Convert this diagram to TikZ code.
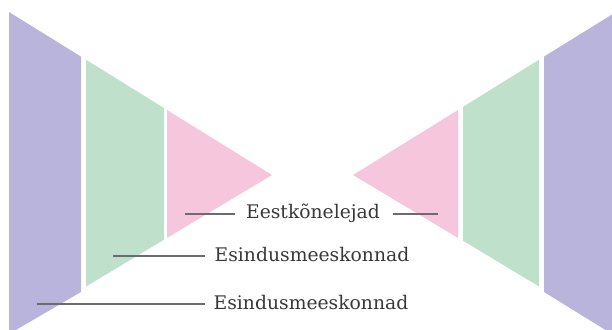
\documentclass[tikz,border=0pt]{standalone}
\usepackage{fontspec}
\setmainfont{DejaVu Serif}
\definecolor{lilac}{HTML}{B8B4DC}
\definecolor{mint}{HTML}{BFE1CC}
\definecolor{rose}{HTML}{F6C6DC}
\definecolor{leader}{HTML}{6E6A6E}
\tikzset{
  lbl/.style={inner sep=0pt, font=\fontsize{16}{19}\selectfont, text=black!78},
  ldr/.style={draw=leader, line width=1.1pt}
}
\begin{document}
\begin{tikzpicture}[x=0.03cm,y=-0.03cm]
\useasboundingbox (0,0) rectangle (612,329);
% left funnel
\fill[lilac] (9,12) -- (81,56.6) -- (81,292) -- (9,334) -- cycle;
\fill[mint] (86,59.7) -- (86,286.5) -- (164,239.7) -- (164,108) -- cycle;
\fill[rose] (167,110) -- (272,175) -- (167,237.9) -- cycle;
% right funnel
\fill[rose] (353,175) -- (458,110) -- (458,237.9) -- cycle;
\fill[mint] (463,106.9) -- (539,59.7) -- (539,286.5) -- (463,240.7) -- cycle;
\fill[lilac] (544,56.6) -- (612,14.5) -- (612,334) -- (544,292) -- cycle;
% labels
\node[lbl] (spk) at (313,213) {Eestk\~onelejad};
\node[lbl] (team) at (312,255) {Esindusmeeskonnad};
\node[lbl] (team2) at (311,303) {Esindusmeeskonnad};
\coordinate (spkL) at (185,214);
\coordinate (spkR) at (438,214);
\coordinate (teamL) at (113,256);
\coordinate (team2L) at (37,304);
\draw[ldr] (spkL) -- ([xshift=-9pt]spk.west |- spkL);
\draw[ldr] ([xshift=11pt]spk.east |- spkR) -- (spkR);
\draw[ldr] (teamL) -- ([xshift=-8.5pt]team.west |- teamL);
\draw[ldr] (team2L) -- ([xshift=-7.5pt]team2.west |- team2L);
\end{tikzpicture}
\end{document}
